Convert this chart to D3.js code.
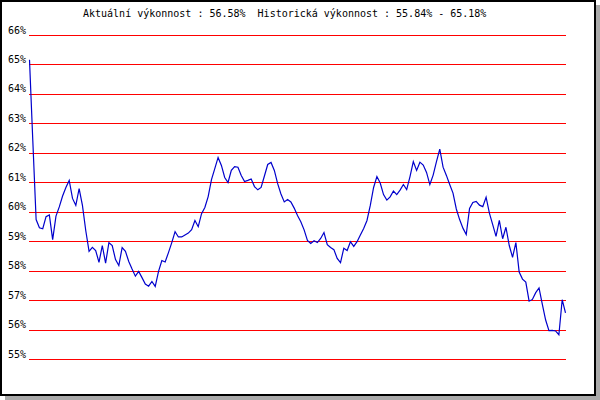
<!DOCTYPE html>
<html>
<head>
<meta charset="utf-8">
<script src="https://cdn.jsdelivr.net/npm/d3@7"></script>
<style>
  html, body { margin: 0; padding: 0; background: #ffffff; }
  svg { display: block; }
  text { font-family: "DejaVu Sans Mono", "Liberation Mono", monospace; font-size: 10px; fill: #000; }
</style>
</head>
<body>
<svg id="chart" width="600" height="400"></svg>
<script>
// ---- data ----
const titleText = "Aktuální výkonnost : 56.58%  Historická výkonnost : 55.84% - 65.18%";
const yTicks = [55, 56, 57, 58, 59, 60, 61, 62, 63, 64, 65, 66];
const values = [
  65.18, 62.43, 59.75, 59.47, 59.44, 59.85, 59.91, 59.07, 59.87, 60.18,
  60.55, 60.84, 61.08, 60.47, 60.23, 60.80, 60.23, 59.38, 58.67, 58.81,
  58.70, 58.30, 58.87, 58.27, 58.97, 58.87, 58.39, 58.19, 58.80, 58.67,
  58.33, 58.07, 57.83, 57.99, 57.78, 57.56, 57.49, 57.65, 57.48, 57.99,
  58.36, 58.31, 58.63, 58.97, 59.34, 59.16, 59.16, 59.23, 59.29, 59.41,
  59.72, 59.51, 59.95, 60.16, 60.53, 61.11, 61.48, 61.86, 61.59, 61.18,
  61.01, 61.42, 61.55, 61.53, 61.25, 61.04, 61.08, 61.13, 60.87, 60.76,
  60.84, 61.23, 61.62, 61.69, 61.42, 60.97, 60.62, 60.35, 60.43, 60.35,
  60.14, 59.89, 59.68, 59.40, 59.04, 58.94, 59.03, 58.97, 59.11, 59.31,
  58.90, 58.80, 58.73, 58.43, 58.29, 58.78, 58.70, 59.00, 58.84, 59.00,
  59.23, 59.45, 59.72, 60.23, 60.84, 61.21, 60.99, 60.60, 60.41, 60.52,
  60.72, 60.60, 60.75, 60.94, 60.77, 61.21, 61.72, 61.42, 61.70, 61.60,
  61.35, 60.94, 61.26, 61.72, 62.14, 61.53, 61.25, 60.94, 60.65, 60.11,
  59.75, 59.46, 59.24, 60.13, 60.33, 60.37, 60.24, 60.19, 60.51, 59.97,
  59.58, 59.18, 59.72, 59.10, 59.49, 58.87, 58.47, 58.97, 57.97, 57.73,
  57.63, 56.98, 57.04, 57.27, 57.43, 56.87, 56.34, 55.98, 55.99, 55.97,
  55.84, 57.03, 56.58
];

// ---- drawing ----
const svg = d3.select("#chart");

// drop shadow
svg.append("rect").attr("x", 5).attr("y", 5).attr("width", 595).attr("height", 395)
  .attr("fill", "#aaaaaa");
// frame
svg.append("rect").attr("x", 1).attr("y", 1).attr("width", 594).attr("height", 394)
  .attr("fill", "#ffffff").attr("stroke", "#000000").attr("stroke-width", 2);

const x = d3.scaleLinear().domain([0, values.length - 1]).range([29.5, 565.5]);
const y = d3.scaleLinear().domain([55, 66]).range([359.5, 35.5]);

// grid lines
svg.append("g").selectAll("line").data(yTicks).join("line")
  .attr("x1", 29).attr("x2", 566)
  .attr("y1", d => y(d)).attr("y2", d => y(d))
  .attr("stroke", "#ff0000").attr("stroke-width", 1)
  .attr("shape-rendering", "crispEdges");

// y labels
svg.append("g").selectAll("text").data(yTicks).join("text")
  .attr("x", 26).attr("y", d => y(d) - 2)
  .attr("text-anchor", "end")
  .text(d => d + "%");

// title
svg.append("text").attr("x", 83).attr("y", 17).attr("xml:space", "preserve")
  .style("white-space", "pre")
  .text(titleText);

// performance line
const line = d3.line().x((d, i) => x(i)).y(d => y(d));
svg.append("path").datum(values)
  .attr("d", line)
  .attr("fill", "none")
  .attr("stroke", "#0000cc")
  .attr("stroke-width", 1.2);
</script>
</body>
</html>
